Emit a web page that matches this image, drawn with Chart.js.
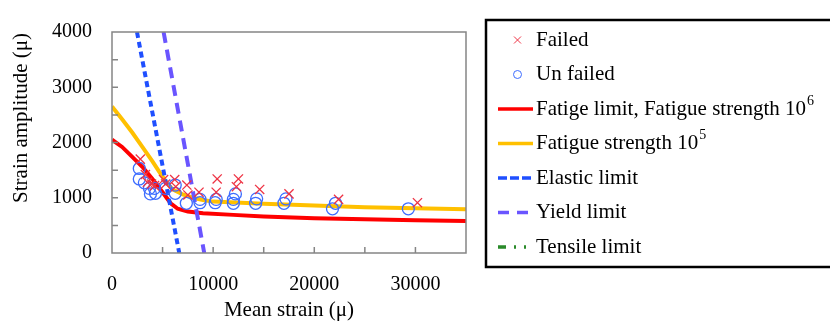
<!DOCTYPE html>
<html>
<head>
<meta charset="utf-8">
<script src="https://cdn.jsdelivr.net/npm/chart.js@4"></script>
<style>
  html, body { margin: 0; padding: 0; background: #fff; }
  #wrap { width: 830px; height: 321px; }
</style>
</head>
<body>
<div id="wrap"><canvas id="chart"></canvas></div>
<script>
// test points
const failedX = [2800, 3300, 3500, 3900, 4200, 5100, 5300, 6200, 6300, 7400, 7500, 8600, 10400, 10300, 12500, 12300, 14600, 17500, 22400, 30200];
const failedY = [1700, 1420, 1280, 1250, 1220, 1330, 1250, 1330, 1200, 1230, 1050, 1100, 1340, 1100, 1340, 1200, 1150, 1070, 970, 910];
const unfailedX = [2700, 2700, 3200, 3700, 3800, 4300, 4200, 5300, 6250, 6250, 7350, 8700, 8700, 10200, 10300, 12000, 12000, 12200, 14200, 14300, 17000, 17200, 21800, 22100, 29300];
const unfailedY = [1530, 1340, 1270, 1170, 1070, 1080, 1170, 1170, 1230, 1080, 900, 910, 970, 910, 970, 900, 970, 1070, 900, 980, 900, 980, 800, 900, 800];

// limit curves
const fatigue6X = [0, 1000, 2000, 3000, 4000, 5000, 5800, 6500, 7500, 9000, 12000, 15000, 20000, 25000, 30000, 35000];
const fatigue6Y = [2050, 1920, 1740, 1560, 1340, 1100, 900, 800, 750, 720, 690, 660, 630, 610, 595, 580];
const fatigue5X = [0, 1000, 2000, 3000, 4000, 5000, 5500, 6000, 7000, 8000, 9000, 10000, 15000, 20000, 25000, 30000, 35000];
const fatigue5Y = [2650, 2420, 2180, 1920, 1660, 1380, 1250, 1150, 1060, 1000, 960, 930, 890, 860, 830, 810, 790];
const elasticX = [2470, 6650];
const elasticY = [4000, 0];
const yieldX = [5100, 9120];
const yieldY = [4000, 0];
const tensileX = [];
const tensileY = [];

// tick labels
const xTickValues = [0, 10000, 20000, 30000];
const yTickValues = [0, 1000, 2000, 3000, 4000];
const xTitle = 'Mean strain (\u03bc)';
const yTitle = 'Strain amplitude (\u03bc)';

function pts(xs, ys) {
  return xs.map((x, i) => ({ x: x, y: ys[i] }));
}

const FONT = "'Liberation Serif', 'Times New Roman', serif";

// legend rows: label, superscript, dataset index
const legendRows = [
  ['Failed', '', 0],
  ['Un failed', '', 1],
  ['Fatige limit, Fatigue strength 10', '6', 2],
  ['Fatigue strength 10', '5', 3],
  ['Elastic limit', '', 4],
  ['Yield limit', '', 5],
  ['Tensile limit', '', 6]
];

const extras = {
  id: 'extras',
  afterDraw(chart) {
    const ctx = chart.ctx;
    const a = chart.chartArea;
    const xs = chart.scales.x, ys = chart.scales.y;
    ctx.save();
    // frame
    ctx.strokeStyle = '#858585';
    ctx.lineWidth = 1.5;
    ctx.strokeRect(a.left, a.top, a.right - a.left, a.bottom - a.top);
    // inward tick marks
    ctx.beginPath();
    for (let v = 5000; v < 35000; v += 5000) {
      const px = xs.getPixelForValue(v);
      ctx.moveTo(px, a.bottom);
      ctx.lineTo(px, a.bottom - 6);
    }
    for (let v = 500; v < 4000; v += 500) {
      const py = ys.getPixelForValue(v);
      ctx.moveTo(a.left, py);
      ctx.lineTo(a.left + 6, py);
    }
    ctx.stroke();

    // y title
    ctx.fillStyle = '#000';
    ctx.font = '21px ' + FONT;
    ctx.textAlign = 'center';
    ctx.textBaseline = 'middle';
    ctx.translate(21, 118);
    ctx.rotate(-Math.PI / 2);
    ctx.fillText(yTitle, 0, 0);
    ctx.restore();

    // legend box
    ctx.save();
    ctx.strokeStyle = '#000';
    ctx.lineWidth = 2.5;
    ctx.strokeRect(486, 20, 360, 247);
    const ds = chart.data.datasets;
    legendRows.forEach((row, i) => {
      const y = 40 + i * 34.5;
      const d = ds[row[2]];
      ctx.save();
      if (d.showLine) {
        ctx.strokeStyle = d.borderColor;
        ctx.lineWidth = 3.5;
        ctx.setLineDash(d.legendDash || []);
        ctx.beginPath();
        ctx.moveTo(498, y);
        ctx.lineTo(533, y);
        ctx.stroke();
      } else {
        ctx.strokeStyle = d.borderColor;
        ctx.lineWidth = 1;
        ctx.beginPath();
        if (d.pointStyle === 'crossRot') {
          ctx.moveTo(514, y - 3.5); ctx.lineTo(521, y + 3.5);
          ctx.moveTo(521, y - 3.5); ctx.lineTo(514, y + 3.5);
        } else {
          ctx.arc(517.5, y, 4, 0, Math.PI * 2);
        }
        ctx.stroke();
      }
      ctx.restore();
      ctx.fillStyle = '#000';
      ctx.font = '21px ' + FONT;
      ctx.textAlign = 'left';
      ctx.textBaseline = 'middle';
      ctx.fillText(row[0], 536, y);
      if (row[1]) {
        const w = ctx.measureText(row[0]).width;
        ctx.font = '14px ' + FONT;
        ctx.fillText(row[1], 536 + w + 1, y - 8);
      }
    });
    ctx.restore();
  }
};

new Chart(document.getElementById('chart'), {
  type: 'scatter',
  data: {
    datasets: [
      {
        label: 'Failed', data: pts(failedX, failedY),
        pointStyle: 'crossRot', pointRadius: 6.5, pointBorderWidth: 1.3,
        borderColor: '#ee3344', backgroundColor: '#ee3344', order: 0
      },
      {
        label: 'Un failed', data: pts(unfailedX, unfailedY),
        pointStyle: 'circle', pointRadius: 6, pointBorderWidth: 1.3,
        borderColor: '#3d6cff', backgroundColor: 'rgba(0,0,0,0)', order: 1
      },
      {
        label: 'Fatige limit, Fatigue strength 10^6', data: pts(fatigue6X, fatigue6Y),
        showLine: true, pointRadius: 0, borderColor: '#ff0000', borderWidth: 4, order: 4
      },
      {
        label: 'Fatigue strength 10^5', data: pts(fatigue5X, fatigue5Y),
        showLine: true, pointRadius: 0, borderColor: '#ffc000', borderWidth: 4, order: 5
      },
      {
        label: 'Elastic limit', data: pts(elasticX, elasticY),
        showLine: true, pointRadius: 0, borderColor: '#1f4fff', borderWidth: 4,
        borderDash: [6, 4], legendDash: [9, 3], order: 2
      },
      {
        label: 'Yield limit', data: pts(yieldX, yieldY),
        showLine: true, pointRadius: 0, borderColor: '#6a55ff', borderWidth: 4,
        borderDash: [11, 7], legendDash: [11, 8], order: 3
      },
      {
        label: 'Tensile limit', data: pts(tensileX, tensileY),
        showLine: true, pointRadius: 0, borderColor: '#2a8a2a', borderWidth: 4,
        borderDash: [8, 6, 2, 6], legendDash: [8, 8, 2, 8, 2, 8], order: 6
      }
    ]
  },
  options: {
    responsive: true,
    maintainAspectRatio: false,
    animation: false,
    layout: { padding: { left: 0, top: 20, right: 364, bottom: 0 } },
    plugins: { legend: { display: false }, tooltip: { enabled: false } },
    scales: {
      x: {
        type: 'linear', min: 0, max: 35000,
        grid: { display: false, drawTicks: false },
        border: { display: false },
        ticks: {
          padding: 20, color: '#000',
          autoSkip: false, maxRotation: 0, minRotation: 0,
          font: { family: FONT, size: 20 },
          callback: v => String(v)
        },
        afterBuildTicks: s => { s.ticks = xTickValues.map(v => ({ value: v })); },
        title: { display: true, text: xTitle, color: '#000', font: { family: FONT, size: 21 }, padding: { top: 0, bottom: -2 } },
        afterFit: s => { s.height = 68; }
      },
      y: {
        type: 'linear', min: 0, max: 4000,
        grid: { display: false, drawTicks: false },
        border: { display: false },
        ticks: {
          padding: 20, color: '#000', autoSkip: false,
          font: { family: FONT, size: 20 },
          callback: v => String(v)
        },
        afterBuildTicks: s => { s.ticks = yTickValues.map(v => ({ value: v })); },
        afterFit: s => { s.width = 112; }
      }
    }
  },
  plugins: [extras]
});
</script>
</body>
</html>
